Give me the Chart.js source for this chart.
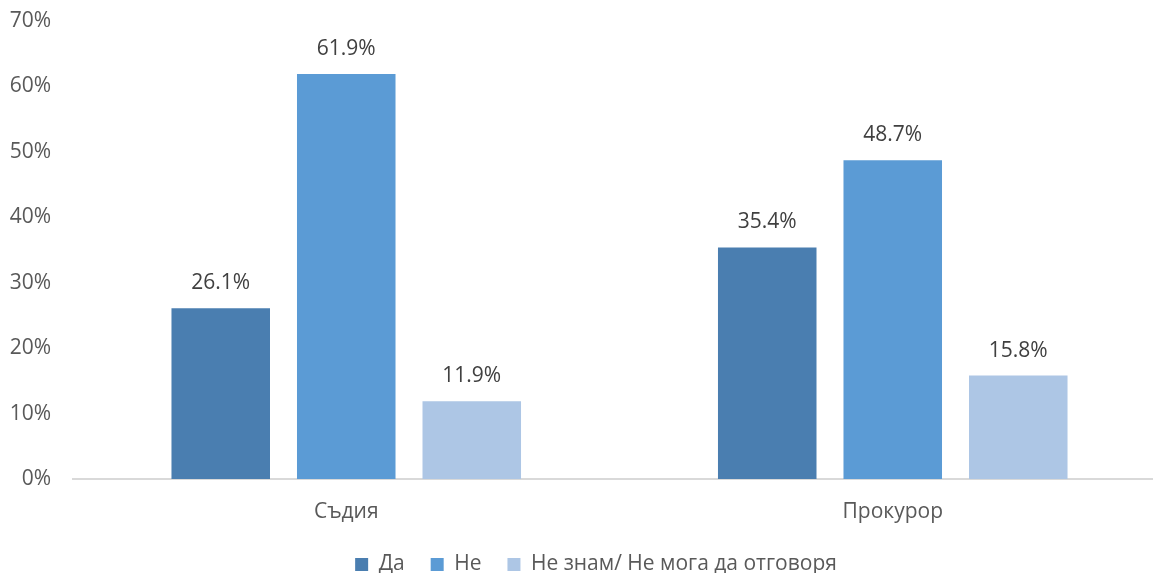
<!DOCTYPE html>
<html>
<head>
<meta charset="utf-8">
<script src="https://cdn.jsdelivr.net/npm/chart.js@4.4.1/dist/chart.umd.min.js"></script>
<style>
  html, body { margin: 0; padding: 0; background: #fff; overflow: hidden; }
  #wrap { width: 1166px; height: 573px; position: relative; }
</style>
</head>
<body>
<div id="wrap"><canvas id="chart"></canvas></div>
<script>
const categories = ['Съдия', 'Прокурор'];
const seriesNames = ['Да', 'Не', 'Не знам/ Не мога да отговоря'];
const daValues = [26.1, 35.4];
const neValues = [61.9, 48.7];
const dontKnowValues = [11.9, 15.8];
const yTicks = [0, 10, 20, 30, 40, 50, 60, 70];

const colors = ['#4a7eb0', '#5b9bd5', '#adc6e5'];
const fontFamily = '"Open Sans", "Noto Sans", sans-serif';
const fontSize = 21;

// draws the value above every bar
const barLabels = {
  id: 'barLabels',
  afterDatasetsDraw(chart) {
    const ctx = chart.ctx;
    ctx.save();
    ctx.font = fontSize + 'px ' + fontFamily;
    ctx.fillStyle = '#404040';
    ctx.textAlign = 'center';
    ctx.textBaseline = 'middle';
    chart.data.datasets.forEach((ds, i) => {
      chart.getDatasetMeta(i).data.forEach((bar, j) => {
        ctx.fillText(ds.data[j].toFixed(1) + '%', bar.x, bar.y - 25);
      });
    });
    ctx.restore();
  }
};

// the legend sits a bit right of the plot centre in the original
const shiftLegend = {
  id: 'shiftLegend',
  afterLayout(chart) {
    chart.legend.left += 13;
    chart.legend.right += 13;
  }
};

const allValues = [daValues, neValues, dontKnowValues];

new Chart(document.getElementById('chart'), {
  type: 'bar',
  data: {
    labels: categories,
    datasets: seriesNames.map((name, i) => ({
      label: name,
      data: allValues[i],
      backgroundColor: colors[i],
      borderWidth: 0,
      categoryPercentage: 0.689,
      barPercentage: 0.785
    }))
  },
  options: {
    responsive: true,
    maintainAspectRatio: false,
    animation: false,
    layout: { padding: { top: 21, right: 0, bottom: -12, left: 0 } },
    scales: {
      x: {
        afterFit(scale) { scale.height = 49; },
        grid: { display: false, drawTicks: false },
        border: { display: true, color: '#d9d9d9', width: 2 },
        ticks: { color: '#595959', font: { family: fontFamily, size: fontSize }, padding: 20 }
      },
      y: {
        min: 0,
        max: 70,
        afterFit(scale) {
          scale.width = 73;
          scale.paddingTop = 0;
          scale.paddingBottom = 0;
        },
        afterBuildTicks(scale) { scale.ticks = yTicks.map(v => ({ value: v })); },
        grid: { display: false, drawTicks: false },
        border: { display: false },
        ticks: {
          color: '#595959',
          font: { family: fontFamily, size: fontSize },
          padding: 22,
          callback: v => v + '%'
        }
      }
    },
    plugins: {
      legend: {
        position: 'bottom',
        labels: {
          color: '#595959',
          font: { family: fontFamily, size: fontSize },
          boxWidth: 13,
          boxHeight: 13,
          padding: 26
        }
      },
      tooltip: { enabled: false }
    }
  },
  plugins: [barLabels, shiftLegend]
});
</script>
</body>
</html>
